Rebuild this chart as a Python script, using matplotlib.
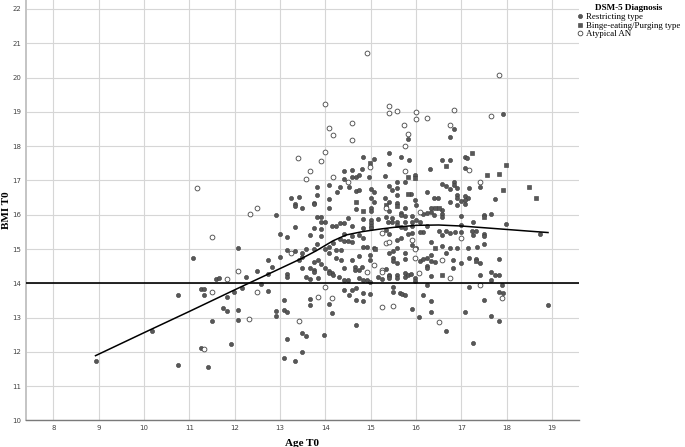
import matplotlib

matplotlib.use("Agg")
import matplotlib.pyplot as plt  # noqa: E402
from matplotlib.lines import Line2D  # noqa: E402

# Restricting type (filled circles): age, BMI
RESTRICT_AGE = [
    17.91, 15.83, 16.83, 16.74,
    14.83, 15.08, 14.81, 14.41, 14.58, 14.41, 14.59, 14.67, 14.75, 14.97, 14.08, 14.33,
    14.53, 13.82, 13.82, 14.25, 14.67, 14.75, 15.00, 15.08, 13.25, 13.41, 13.33, 13.33,
    13.49, 13.74, 13.74, 14.08, 14.07, 15.00, 15.08, 14.67, 15.00, 15.00, 13.82, 13.91,
    13.91, 13.99, 14.49, 14.83, 15.00, 15.00, 15.00, 15.00, 15.17, 15.33, 13.74, 13.91,
    14.15, 14.24, 14.32, 14.41, 14.58, 14.83, 15.34, 13.66, 13.91, 14.41, 14.58, 14.75,
    14.83, 14.32, 14.41, 14.50, 14.58, 13.82, 14.16, 14.08, 13.99, 14.83, 14.92, 13.58,
    13.74, 15.08,
    15.40, 15.66, 15.84, 15.40, 16.31, 16.57, 16.74, 17.07, 17.13, 17.08, 15.31, 15.98,
    15.59, 15.40, 15.75, 15.48, 15.59, 16.57, 16.66, 16.75, 16.83, 16.83, 16.90, 17.16,
    17.42, 15.59, 15.89, 16.24, 16.91, 16.91, 17.07, 17.14, 15.31, 15.40, 15.57, 15.98,
    16.39, 16.48, 16.74, 16.99, 17.07, 17.07, 16.91, 17.73, 15.75, 16.00, 16.33, 16.57,
    16.25, 16.32, 16.16, 15.41, 15.66, 15.48, 15.66, 15.75, 15.91, 16.00, 16.39, 16.57,
    16.57, 16.99, 17.25, 17.49, 17.65, 15.39, 15.48, 15.57, 15.57, 15.75, 15.91, 15.91,
    16.09, 16.16, 16.09, 15.75, 15.66, 15.82, 15.91, 16.25, 16.50, 16.66, 16.75, 16.58,
    16.85, 16.99, 16.99, 17.23, 17.33, 17.49, 17.49, 17.25, 15.41, 15.57, 15.66, 15.59,
    15.91, 16.00, 16.33, 16.58, 16.75, 16.91, 17.49, 17.14, 17.35,
    17.99, 18.73,
    8.93, 10.17, 10.75, 10.75, 11.08, 11.25, 11.33, 11.33, 11.25, 11.41, 11.50, 11.58,
    11.66, 11.83, 11.74, 11.83, 11.91, 11.99, 12.07, 12.07, 12.07, 12.16, 12.24, 12.49,
    12.58, 12.74, 12.74, 12.74, 12.83, 12.91, 12.91, 12.99, 12.99, 13.08, 13.08, 13.08,
    13.16, 13.16, 13.16, 13.16, 13.16, 13.16, 13.32, 13.32, 13.32, 13.42, 12.91,
    13.49, 14.24, 14.34, 14.07, 13.49, 13.74, 13.83, 13.90, 13.99, 13.49, 13.65, 13.74,
    13.74, 13.58, 13.67, 13.83, 14.08, 14.15, 14.08, 14.17, 14.24, 14.34, 14.58, 14.74,
    14.40, 14.31, 14.42, 14.49, 14.65, 14.65, 14.74, 14.81, 14.74, 14.82, 14.91, 14.99,
    14.99, 14.99, 15.17, 15.24, 15.40, 15.33,
    14.42, 14.58, 14.67, 14.83, 14.99, 14.51, 14.67, 14.83, 13.67, 13.67, 14.08, 14.15,
    14.67, 13.49, 13.58, 13.98, 13.49,
    15.41, 15.50, 15.75, 15.50, 15.50, 15.57, 15.75, 16.08, 16.16, 16.23, 16.32, 16.41,
    16.32, 16.25, 16.25, 16.66, 16.82, 16.82, 16.99, 17.16, 17.32, 17.41, 15.41, 15.41,
    15.57, 15.57, 15.75, 15.75, 15.82, 15.89, 15.98, 15.98, 16.32, 17.41, 17.66, 17.66,
    15.49, 15.49, 15.65, 15.68, 15.75, 16.25, 16.16, 16.32, 15.91, 16.32, 16.07, 17.07,
    17.17, 17.50, 17.66, 16.66, 17.25,
    17.82, 17.74, 17.82, 17.90, 17.82, 17.91, 18.91, 17.82,
]
RESTRICT_BMI = [
    18.95, 18.20, 18.51, 18.27,
    17.67, 17.63, 17.32, 17.28, 17.29, 17.03, 17.09, 17.11, 17.17, 17.09, 16.87, 16.80,
    16.81, 16.80, 16.58, 16.65, 16.70, 16.71, 16.75, 16.65, 16.50, 16.52, 16.30, 16.24,
    16.19, 16.35, 16.30, 16.47, 16.21, 16.50, 16.38, 16.17, 16.19, 16.11, 15.93, 15.93,
    15.80, 15.78, 15.91, 15.87, 15.84, 15.76, 15.68, 15.60, 15.87, 15.94, 15.60, 15.58,
    15.68, 15.68, 15.75, 15.75, 15.68, 15.61, 15.55, 15.41, 15.37, 15.43, 15.37, 15.41,
    15.31, 15.30, 15.23, 15.23, 15.21, 15.16, 15.18, 15.07, 15.01, 15.06, 15.06, 15.01,
    15.01, 15.04,
    17.81, 17.67, 17.59, 17.47, 17.32, 17.59, 17.59, 17.68, 17.65, 17.35, 17.14, 17.16,
    16.96, 16.85, 16.96, 16.72, 16.79, 16.89, 16.85, 16.75, 16.96, 16.87, 16.77, 16.79,
    16.82, 16.58, 16.60, 16.66, 16.58, 16.50, 16.54, 16.50, 16.50, 16.38, 16.33, 16.44,
    16.48, 16.48, 16.36, 16.40, 16.42, 16.32, 16.28, 16.46, 16.19, 16.27, 16.21, 16.13,
    16.05, 16.09, 16.03, 16.11, 16.05, 15.90, 15.99, 15.95, 15.95, 15.86, 15.99, 16.03,
    15.94, 15.95, 15.80, 15.99, 16.01, 15.78, 15.78, 15.78, 15.70, 15.78, 15.78, 15.68,
    15.78, 15.51, 15.51, 15.61, 15.64, 15.45, 15.47, 15.68, 15.53, 15.53, 15.47, 15.41,
    15.51, 15.70, 15.51, 15.53, 15.53, 15.45, 15.39, 15.42, 15.45, 15.27, 15.31, 15.02,
    15.12, 15.02, 15.20, 15.08, 15.04, 15.04, 15.14, 15.04, 15.06,
    15.74, 15.45,
    11.74, 12.60, 13.66, 11.62, 14.74, 13.83, 13.83, 13.65, 12.10, 11.56, 12.90, 14.13,
    14.14, 13.60, 13.29, 13.18, 12.22, 13.75, 15.02, 13.22, 12.94, 13.87, 14.19, 14.36,
    13.97, 14.69, 14.26, 13.79, 14.48, 13.19, 13.04, 15.43, 14.77, 13.50, 13.23, 11.82,
    15.35, 14.96, 14.28, 14.18, 13.15, 12.39, 15.64, 14.95, 11.74, 14.67, 15.98,
    14.87, 14.97, 14.97, 14.87, 14.77, 14.63, 14.69, 14.57, 14.46, 14.46, 14.44, 14.38,
    14.32, 14.17, 14.13, 14.15, 14.36, 14.31, 14.29, 14.25, 14.73, 14.69, 14.69, 14.81,
    14.44, 14.19, 14.09, 14.09, 14.48, 14.40, 14.40, 14.48, 14.15, 14.09, 14.09, 14.03,
    14.83, 14.69, 14.17, 14.13, 14.23, 14.42,
    13.80, 13.80, 13.86, 13.72, 13.68, 13.66, 13.52, 13.47, 13.53, 13.37, 13.39, 13.12,
    12.79, 12.55, 12.45, 12.50, 12.01,
    14.89, 14.93, 14.87, 14.73, 14.64, 14.58, 14.70, 14.64, 14.71, 14.73, 14.83, 14.62,
    14.64, 14.50, 14.44, 14.87, 14.67, 14.46, 14.58, 14.73, 14.71, 14.58, 14.21, 14.15,
    14.23, 14.15, 14.29, 14.19, 14.23, 14.27, 14.15, 14.07, 14.21, 14.23, 14.34, 14.11,
    13.88, 13.76, 13.72, 13.68, 13.66, 13.96, 13.66, 13.47, 13.24, 13.16, 13.02, 13.16,
    13.90, 13.51, 13.06, 12.60, 12.25,
    14.71, 14.23, 14.23, 13.94, 13.74, 13.71, 13.37, 12.91,
]

# Binge-eating/Purging type (filled squares)
BINGE_AGE = [14.99, 14.67, 14.84, 15.33, 16.65, 17.24, 17.57, 15.82, 15.98, 15.82, 15.57,
             16.41, 16.50, 17.49, 16.41, 17.99, 17.82, 17.91, 18.48, 18.65, 15.10, 17.32,
             16.57]
BINGE_BMI = [17.50, 16.38, 16.10, 16.27, 17.43, 17.79, 17.16, 17.11, 17.08, 16.60, 16.24,
             16.21, 16.21, 15.92, 15.04, 17.46, 17.20, 16.73, 16.80, 16.48, 14.99, 14.66,
             14.23]

# Atypical AN (open circles)
ATYPICAL_AGE = [14.91, 13.99, 17.82, 15.41, 15.40, 15.58, 16.00, 16.00, 16.25, 16.83, 17.65,
                14.07, 14.16, 14.58, 14.58, 15.74, 15.83, 16.74,
                13.40, 14.00, 13.91, 13.67, 13.58, 14.17, 14.99, 14.50, 15.33, 15.25, 15.33,
                15.75, 17.16, 15.75, 17.42, 16.08, 15.41, 15.91, 16.99,
                11.33, 11.49, 11.49, 11.83, 12.07, 12.32, 12.49, 13.25, 13.41,
                11.16, 12.33, 12.49,
                14.91, 15.08, 15.24, 15.24, 14.00, 13.83, 14.15, 15.24,
                15.98, 15.98, 16.57, 16.07, 16.75, 15.50, 17.42, 16.50, 17.90]
ATYPICAL_BMI = [20.71, 19.22, 20.07, 19.18, 18.96, 19.02, 19.00, 18.79, 18.81, 19.06, 18.88,
                18.54, 18.33, 18.68, 18.18, 18.61, 18.35, 18.63,
                17.65, 17.84, 17.57, 17.28, 17.05, 17.10, 17.38, 16.94, 16.19, 15.48, 15.18,
                18.00, 17.30, 17.27, 16.94, 16.09, 15.20, 15.26, 15.33,
                12.07, 15.35, 13.75, 14.13, 14.36, 12.96, 13.75, 14.89, 12.90,
                16.79, 16.03, 16.20,
                14.32, 14.52, 14.40, 14.32, 13.88, 13.59, 13.57, 13.31,
                14.75, 15.00, 14.69, 14.29, 14.15, 13.35, 13.96, 12.87, 13.57]

# Loess fit line
LOESS_AGE = [8.93, 10.0, 11.0, 12.0, 13.0, 13.5, 13.8, 14.17, 14.46, 14.83, 15.2, 15.5,
             16.0, 16.5, 17.0, 17.5, 18.0, 18.5, 18.91]
LOESS_BMI = [11.89, 12.56, 13.18, 13.81, 14.43, 14.74, 14.95, 15.24, 15.41, 15.51, 15.58,
             15.63, 15.69, 15.70, 15.67, 15.62, 15.57, 15.52, 15.48]

CUTOFF = 14
LABELS = ["Restricting type", "Binge-eating/Purging type", "Atypical AN"]


def main():
    fig = plt.figure(figsize=(6.85, 4.47), dpi=100)
    ax = fig.add_axes([0.0375, 0.0593, 0.8082, 0.9407])

    ax.scatter(RESTRICT_AGE, RESTRICT_BMI, s=9, marker="o", facecolor="#585858",
               edgecolor="#3c3c3c", linewidths=0.4, zorder=3)
    ax.scatter(BINGE_AGE, BINGE_BMI, s=9, marker="s", facecolor="#585858",
               edgecolor="#3c3c3c", linewidths=0.4, zorder=3)
    ax.scatter(ATYPICAL_AGE, ATYPICAL_BMI, s=12, marker="o", facecolor="white",
               edgecolor="#444444", linewidths=0.6, zorder=3)

    ax.axhline(CUTOFF, color="black", lw=1.2, zorder=4)
    ax.plot(LOESS_AGE, LOESS_BMI, color="black", lw=1.1, zorder=4)

    ax.set_xlim(7.39, 19.6)
    ax.set_ylim(10, 22.26)
    ax.set_xticks(range(8, 20))
    ax.set_yticks(range(10, 23))
    ax.grid(color="#d6d6d6", lw=0.8)
    ax.set_axisbelow(True)
    for side in ("top", "right"):
        ax.spines[side].set_visible(False)
    ax.spines["left"].set_color("#c4c4c4")
    ax.spines["left"].set_linewidth(1.4)
    ax.spines["bottom"].set_color("#7a7a7a")
    ax.spines["bottom"].set_linewidth(1.0)
    ax.tick_params(labelsize=5, colors="#444444", length=0, pad=3)

    serif = "Liberation Serif"
    ax.set_xlabel("Age T0", family=serif, weight="bold", fontsize=8, labelpad=6)
    ax.set_ylabel("BMI T0", family=serif, weight="bold", fontsize=8, labelpad=1)

    handles = [
        Line2D([], [], ls="", marker="o", ms=3, mfc="#585858", mec="#3c3c3c", mew=0.4),
        Line2D([], [], ls="", marker="s", ms=3, mfc="#585858", mec="#3c3c3c", mew=0.4),
        Line2D([], [], ls="", marker="o", ms=3.4, mfc="white", mec="#444444", mew=0.6),
    ]
    leg = fig.legend(handles, LABELS, loc="upper left", bbox_to_anchor=(0.843, 0.99),
                     frameon=False, title="DSM-5 Diagnosis",
                     prop={"family": serif, "size": 6.4},
                     title_fontproperties={"family": serif, "weight": "bold", "size": 6.6},
                     handlelength=0.6, handletextpad=0.4, labelspacing=0.05,
                     borderpad=0, borderaxespad=0)
    leg._legend_box.align = "center"

    fig.savefig("out.png", dpi=100)
    plt.close(fig)


if __name__ == "__main__":
    main()
